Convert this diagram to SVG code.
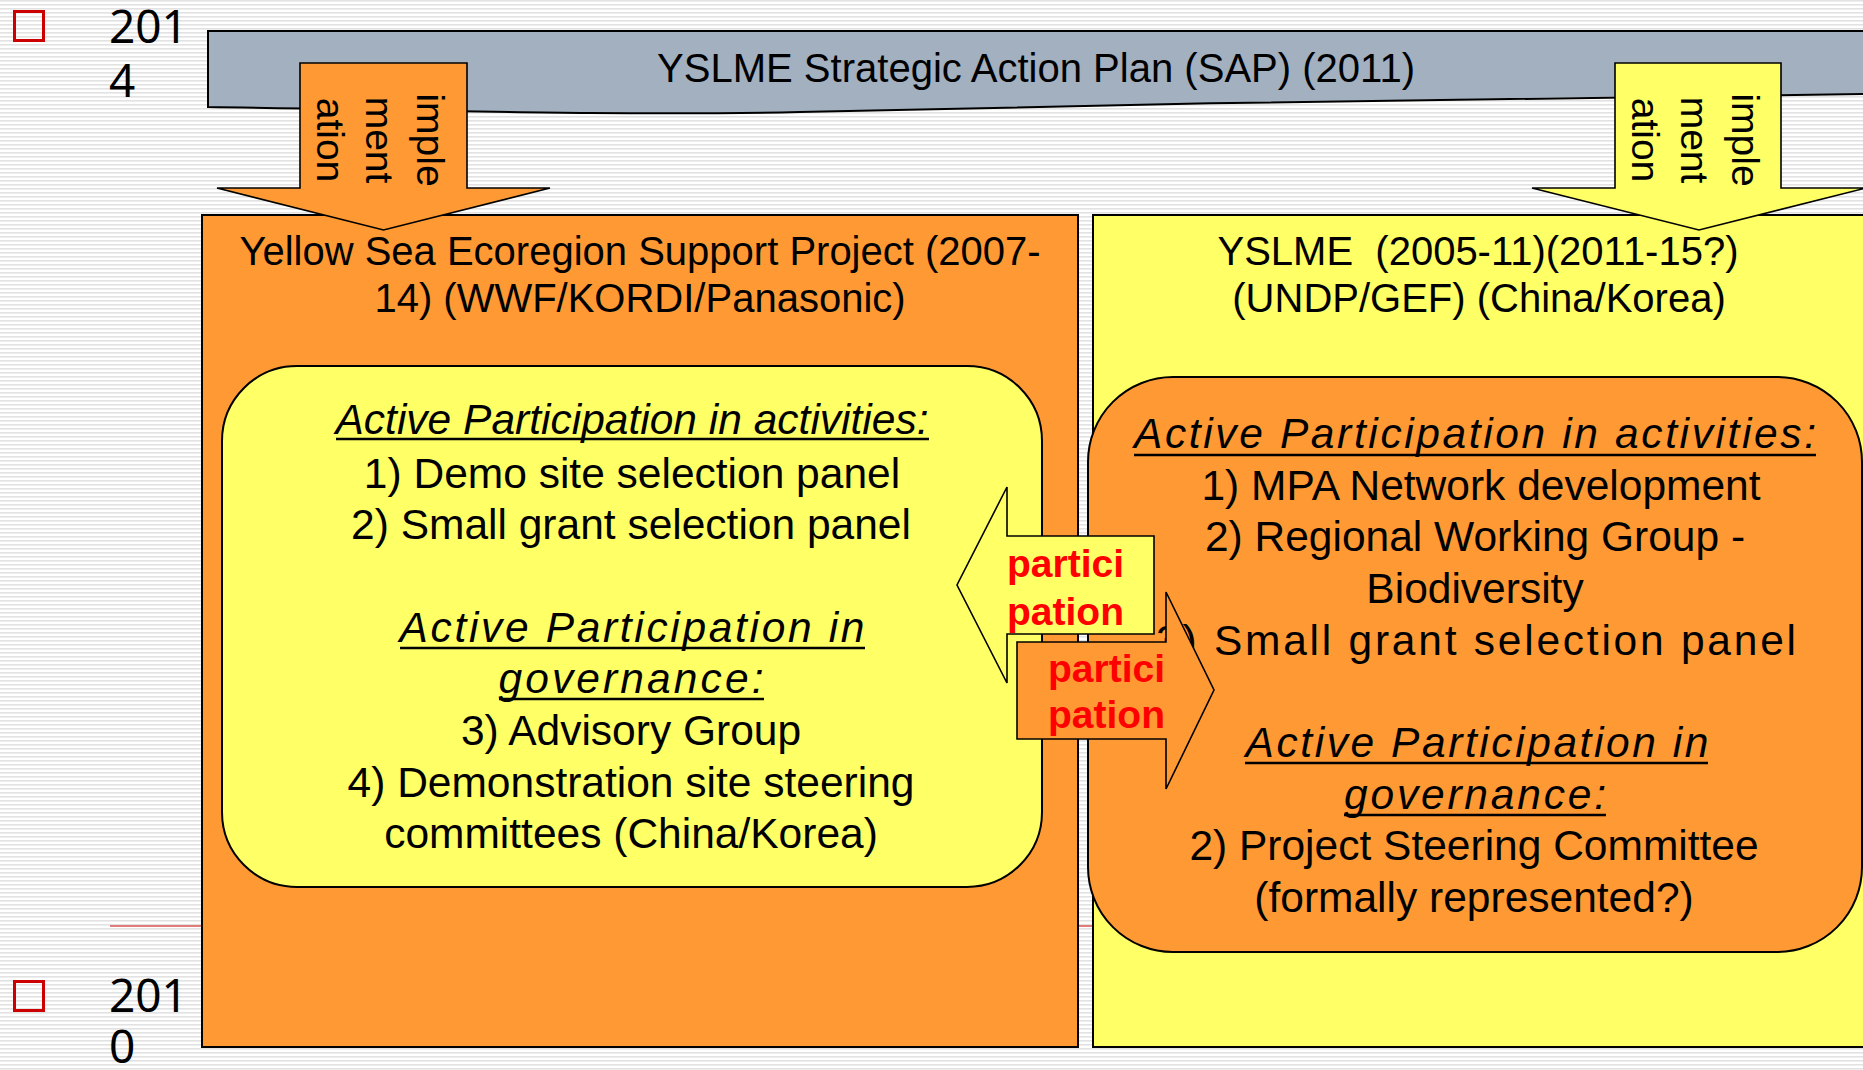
<svg xmlns="http://www.w3.org/2000/svg" width="1863" height="1070" viewBox="0 0 1863 1070">
<defs>
<pattern id="stripes" width="8" height="4" patternUnits="userSpaceOnUse">
<rect width="8" height="4" fill="#ffffff"/>
<rect width="8" height="1.6" fill="#e2e2e2"/>
</pattern>
<style>
.t{font-family:"Liberation Sans",Arial,sans-serif;fill:#000;text-anchor:middle}
.yr{font-family:"Noto Sans","Open Sans",sans-serif;font-size:46px;fill:#000}
.title{font-size:40px}
.in{font-size:42.5px}
.hd{font-size:42.5px;font-style:italic}
.ul{stroke:#000;stroke-width:2.5}
.rot{font-size:39px}
.pa{font-family:"Liberation Sans",Arial,sans-serif;font-weight:bold;font-size:39px;fill:#ff0000}
.box{stroke:#000;stroke-width:2}
.arr{stroke:#000;stroke-width:1.6;stroke-linejoin:miter}
.org{fill:#ff9933}
.yel{fill:#ffff66}
.bul{fill:none;stroke:#cc0000;stroke-width:3}
</style>
</defs>
<rect width="1863" height="1070" fill="url(#stripes)"/>
<g id="timeline">
<rect class="bul" x="14.5" y="11.5" width="29" height="29"/>
<text class="yr" x="109" y="43">201</text>
<text class="yr" x="109" y="97">4</text>
<rect class="bul" x="14.5" y="981.5" width="29" height="29"/>
<text class="yr" x="109" y="1012">201</text>
<text class="yr" x="109" y="1063">0</text>
<line x1="110" y1="926" x2="1863" y2="926" stroke="#d9534f" stroke-width="1.5"/>
</g>
<g id="sap">
<path d="M208,31 L1870,31 L1870,94 C1560,96 1150,104 800,112 C620,116 420,110 208,107 Z" fill="#a2b0bf" stroke="#000" stroke-width="2"/>
<text class="t" x="1036" y="82" style="font-size:40px" textLength="758" lengthAdjust="spacingAndGlyphs">YSLME Strategic Action Plan (SAP) (2011)</text>
</g>
<g id="yesp">
<rect class="box org" x="202" y="215" width="876" height="832"/>
<text class="t title" x="640" y="265">Yellow Sea Ecoregion Support Project (2007-</text>
<text class="t title" x="640" y="312">14) (WWF/KORDI/Panasonic)</text>
</g>
<g id="yslme">
<rect class="box yel" x="1093" y="215" width="790" height="832"/>
<text class="t title" x="1478" y="265" xml:space="preserve">YSLME  (2005-11)(2011-15?)</text>
<text class="t title" x="1479" y="312">(UNDP/GEF) (China/Korea)</text>
</g>
<g id="yesp-participation">
<rect class="box yel" x="222" y="366" width="820" height="521" rx="75" ry="75"/>
<text class="t hd" x="632" y="434" textLength="593" lengthAdjust="spacingAndGlyphs">Active Participation in activities:</text>
<line class="ul" x1="336" y1="439" x2="929" y2="439"/>
<text class="t in" x="632" y="488">1) Demo site selection panel</text>
<text class="t in" x="631" y="539">2) Small grant selection panel</text>
<text class="t hd" x="632" y="642" textLength="465" lengthAdjust="spacing">Active Participation in</text>
<line class="ul" x1="400" y1="648" x2="865" y2="648"/>
<text class="t hd" x="631" y="693" textLength="265" lengthAdjust="spacing">governance:</text>
<line class="ul" x1="499" y1="699" x2="764" y2="699"/>
<text class="t in" x="631" y="745">3) Advisory Group</text>
<text class="t in" x="631" y="797">4) Demonstration site steering</text>
<text class="t in" x="631" y="848">committees (China/Korea)</text>
</g>
<g id="yslme-participation">
<rect class="box org" x="1088" y="377" width="774" height="575" rx="85" ry="85"/>
<text class="t hd" x="1475" y="448" textLength="682" lengthAdjust="spacing">Active Participation in activities:</text>
<line class="ul" x1="1134" y1="455" x2="1816" y2="455"/>
<text class="t in" x="1481" y="500">1) MPA Network development</text>
<text class="t in" x="1475" y="551">2) Regional Working Group -</text>
<text class="t in" x="1475" y="603">Biodiversity</text>
<text class="t in" x="1476" y="655" textLength="640" lengthAdjust="spacing">3) Small grant selection panel</text>
<text class="t hd" x="1477" y="757" textLength="463" lengthAdjust="spacing">Active Participation in</text>
<line class="ul" x1="1245" y1="763" x2="1708" y2="763"/>
<text class="t hd" x="1475" y="809" textLength="262" lengthAdjust="spacing">governance:</text>
<line class="ul" x1="1344" y1="815" x2="1606" y2="815"/>
<text class="t in" x="1474" y="860">2) Project Steering Committee</text>
<text class="t in" x="1474" y="912">(formally represented?)</text>
</g>
<g id="connectors">
<g id="impl-left">
<path class="arr org" d="M300,63 L467,63 L467,188 L550,188 L383.5,230 L217,188 L300,188 Z"/>
<g transform="translate(383.5,140) rotate(90)">
<text class="t rot" x="0" y="-33.5">imple</text>
<text class="t rot" x="0" y="17.5">ment</text>
<text class="t rot" x="0" y="66.5">ation</text>
</g>
</g>
<g id="impl-right">
<path class="arr yel" d="M1615,63 L1781,63 L1781,188 L1866,188 L1699,230 L1532,188 L1615,188 Z"/>
<g transform="translate(1698,140) rotate(90)">
<text class="t rot" x="0" y="-33.5">imple</text>
<text class="t rot" x="0" y="17.5">ment</text>
<text class="t rot" x="0" y="66.5">ation</text>
</g>
</g>
<g id="part-left">
<path class="arr yel" d="M1154,536 L1154,634 L1007,634 L1007,683 L957,585 L1007,487 L1007,536 Z"/>
<text class="pa" x="1007" y="577">partici</text>
<text class="pa" x="1007" y="625">pation</text>
</g>
<g id="part-right">
<path class="arr org" d="M1017,642 L1166,642 L1166,592 L1214,690 L1166,789 L1166,739 L1017,739 Z"/>
<text class="pa" x="1048" y="682">partici</text>
<text class="pa" x="1048" y="728">pation</text>
</g>
</g>
</svg>
